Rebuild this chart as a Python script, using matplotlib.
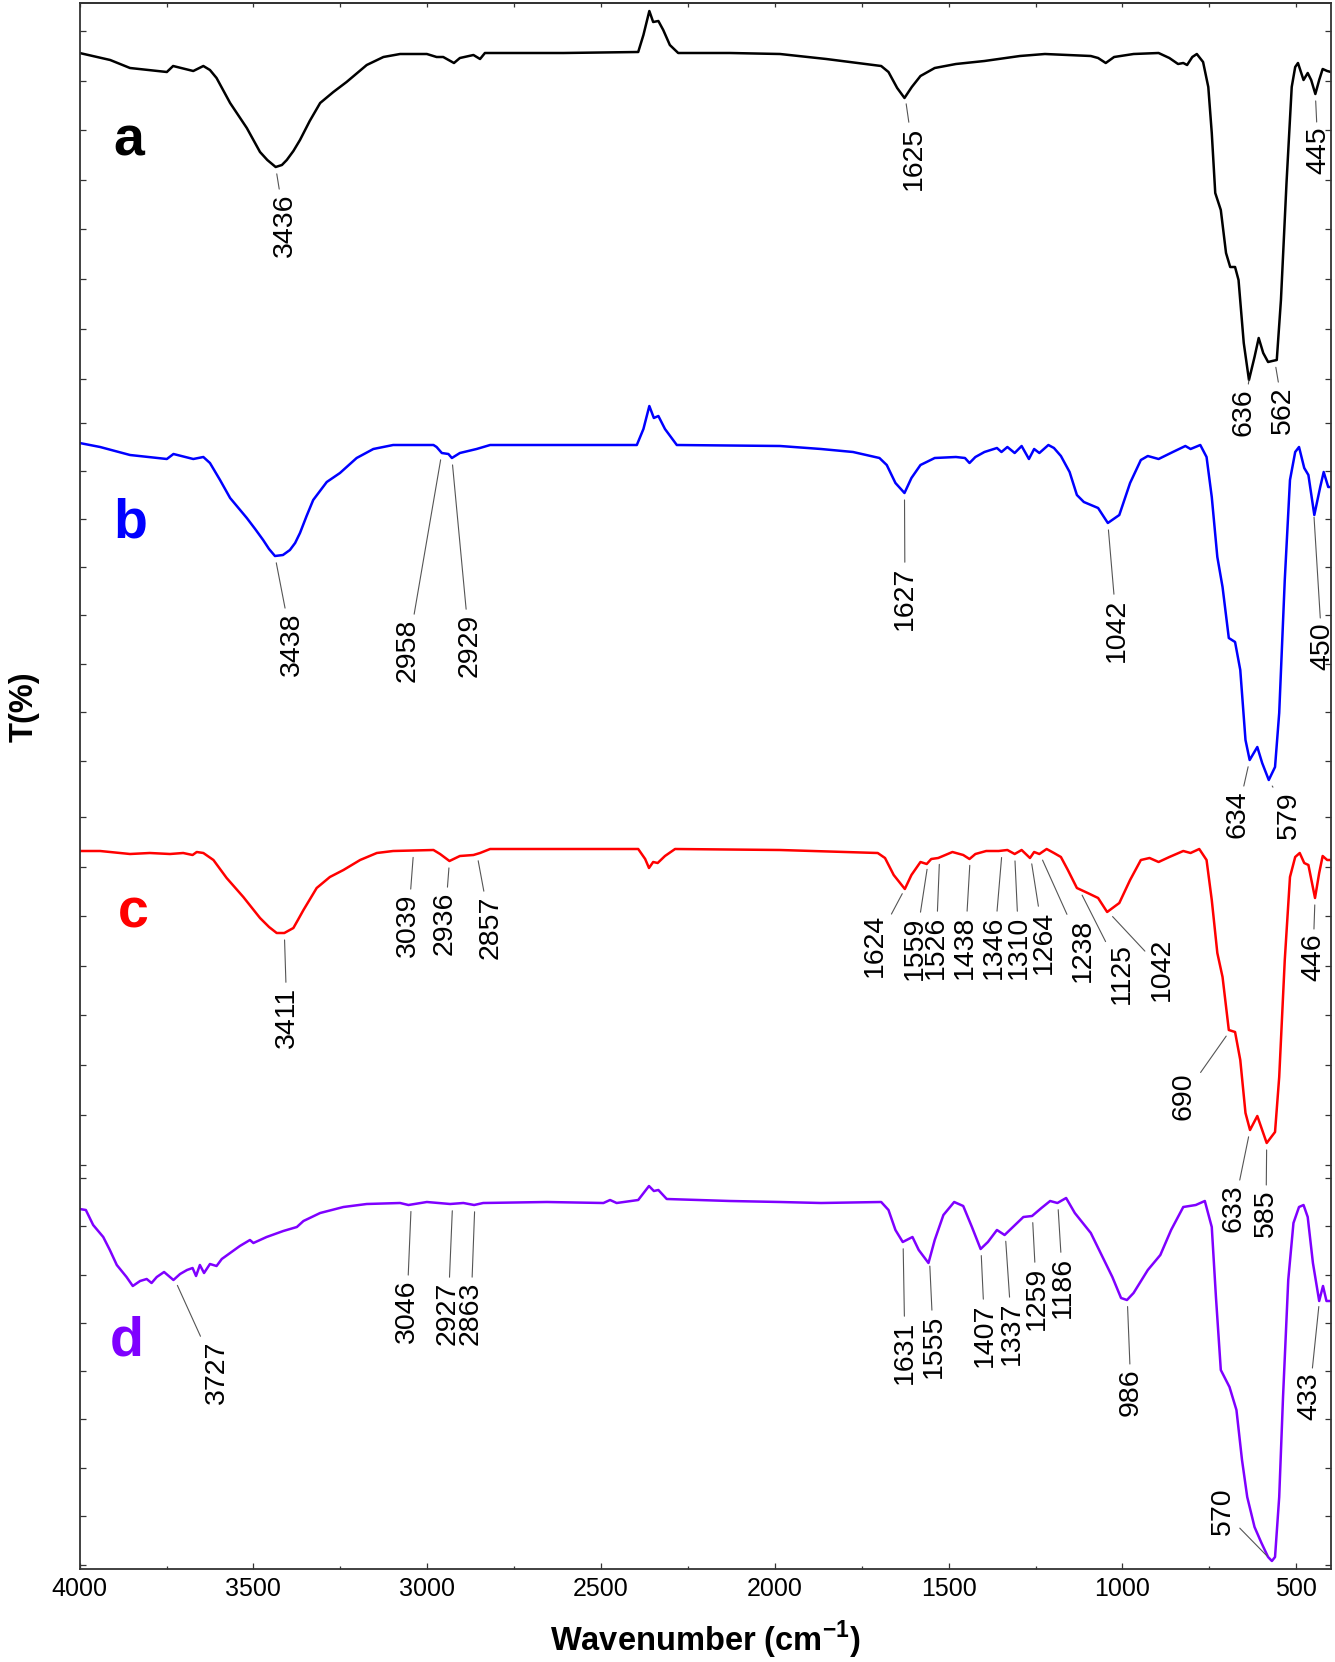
import numpy as np
import matplotlib
matplotlib.use("Agg")
import matplotlib.pyplot as plt

plt.rcParams['font.family'] = ['Liberation Sans', 'DejaVu Sans']
plt.rcParams['mathtext.fontset'] = 'custom'
plt.rcParams['mathtext.rm'] = 'Liberation Sans'
plt.rcParams['mathtext.bf'] = 'Liberation Sans:bold'

# ---------------- data (wavenumber cm-1, offset transmittance, arbitrary units) ----------------
spec_a = [(4000,151.6),(3912,150.9),(3855,150.1),(3749,149.7),(3731,150.3),(3673,149.8),(3644,150.3),
          (3625,149.9),(3606,149.1),(3567,146.6),(3519,144.1),(3481,141.7),(3460,140.9),(3436,140.2),
          (3418,140.4),(3404,140.9),(3385,141.8),(3366,142.9),(3338,144.8),(3308,146.6),(3270,147.7),
          (3232,148.7),(3174,150.4),(3126,151.2),(3078,151.5),
          (3001,151.5),(2973,151.2),(2954,151.2),(2923,150.6),(2906,151.1),(2867,151.4),(2848,151.0),
          (2834,151.6),(2608,151.6),(2393,151.7),(2378,153.4),(2361,155.8),(2350,154.7),(2335,154.8),
          (2321,153.9),(2302,152.4),(2278,151.6),(2129,151.6),(1985,151.5),(1852,151.0),(1694,150.3),
          (1673,149.7),(1648,148.1),(1627,147.1),(1606,148.2),(1581,149.3),(1540,150.1),(1479,150.5),
          (1397,150.8),(1295,151.3),(1223,151.5),(1091,151.3),(1070,151.1),(1048,150.6),(1024,151.2),
          (968,151.5),(896,151.6),(865,151.1),(840,150.5),(825,150.6),(814,150.4),(799,151.2),(786,151.5),
          (768,150.7),(753,148.2),(743,143.6),(733,137.6),(717,135.9),(702,131.6),(690,130.2),(676,130.2),
          (666,128.9),(651,122.6),(636,118.9),(620,121.2),(608,123.1),(595,121.6),(581,120.7),(569,120.8),
          (556,120.9),(544,126.9),(528,138.6),(513,148.2),(503,150.2),(495,150.6),(479,148.9),(467,149.6),
          (457,148.9),(445,147.5),(434,148.9),(424,150.0),(411,149.8),(400,149.7)]

spec_b = [(4000,112.6),(3941,112.2),(3855,111.4),(3749,111.0),(3730,111.5),(3673,111.0),(3644,111.2),
          (3625,110.6),(3596,108.9),(3567,107.1),(3519,105.1),(3495,104.0),(3472,102.9),(3455,102.0),
          (3438,101.3),(3415,101.4),(3395,101.9),(3380,102.6),(3366,103.6),(3347,105.3),(3328,106.9),
          (3289,108.7),(3251,109.6),(3203,111.1),(3155,112.0),(3098,112.4),
          (2982,112.4),(2973,112.2),(2958,111.6),(2939,111.5),(2929,111.1),(2906,111.6),(2858,112.0),
          (2819,112.4),(2397,112.4),(2378,114.0),(2361,116.3),(2348,115.1),(2335,115.3),(2316,114.0),
          (2282,112.4),(1985,112.3),(1867,112.0),(1775,111.7),(1699,111.1),(1678,110.4),(1653,108.6),
          (1627,107.6),(1607,109.1),(1581,110.4),(1540,111.1),(1479,111.2),(1453,111.1),(1440,110.6),
          (1423,111.2),(1397,111.7),(1361,112.1),(1348,111.7),(1331,112.2),(1310,111.6),(1290,112.3),
          (1269,111.0),(1254,112.0),(1239,111.6),(1213,112.4),(1197,112.1),(1177,111.3),(1152,109.7),
          (1131,107.4),(1111,106.7),(1070,106.1),(1042,104.6),(1009,105.4),(978,108.6),(947,110.9),
          (927,111.3),(896,111.0),(855,111.7),(819,112.3),(804,112.0),(776,112.4),(758,111.2),(743,107.2),
          (727,101.2),(712,98.2),(694,93.1),(676,92.7),(661,89.9),(646,82.9),(634,80.9),(612,82.2),
          (598,80.6),(579,78.9),(561,80.2),(549,85.6),(533,98.9),(518,108.9),(503,111.7),(492,112.2),
          (477,110.1),(465,109.4),(448,105.4),(431,108.2),(421,109.7),(408,108.2),(400,108.2)]

spec_c = [(4000,71.8),(3941,71.8),(3855,71.5),(3798,71.6),(3740,71.5),(3702,71.6),(3675,71.4),(3663,71.7),
          (3644,71.6),(3615,70.9),(3577,69.1),(3529,67.2),(3481,65.1),(3455,64.2),(3433,63.6),(3411,63.6),
          (3385,64.1),(3372,64.9),(3356,65.9),(3337,67.0),(3318,68.1),(3280,69.2),(3241,69.9),(3193,70.9),
          (3145,71.6),(3098,71.8),(2982,71.9),
          (2963,71.5),(2936,70.8),(2906,71.3),(2867,71.4),(2848,71.6),(2819,72.0),(2393,72.0),(2373,71.0),
          (2362,70.1),(2350,70.7),(2337,70.6),(2316,71.3),(2287,72.0),(1985,71.9),(1704,71.6),(1683,71.1),
          (1658,69.4),(1626,68.0),(1607,69.4),(1581,70.7),(1563,70.5),(1550,71.0),(1530,71.1),(1489,71.7),
          (1458,71.4),(1440,71.0),(1423,71.5),(1392,71.8),(1356,71.8),(1331,71.9),(1310,71.5),(1290,71.9),
          (1266,71.1),(1254,71.7),(1239,71.5),(1218,72.0),(1197,71.6),(1177,71.2),(1157,69.9),(1131,68.1),
          (1100,67.6),(1070,67.1),(1044,65.7),(1009,66.6),(978,68.9),(947,70.9),(922,71.1),(896,70.7),
          (865,71.2),(825,71.8),(804,71.6),(779,72.0),(758,70.9),(743,66.9),(727,61.6),(712,59.2),(694,53.9),
          (676,53.7),(661,50.9),(646,45.6),(633,43.9),(612,45.3),(598,43.9),(585,42.6),(561,43.7),(549,49.2),
          (533,60.9),(518,69.2),(503,71.2),(490,71.6),(477,70.6),(465,70.4),(446,67.1),(434,69.6),(424,71.3),
          (411,70.9),(400,70.9)]

spec_d = [(4000,36.0),(3982,35.9),(3961,34.4),(3932,33.2),(3913,31.9),(3893,30.4),(3865,29.2),(3847,28.3),
          (3826,28.8),(3807,29.0),(3793,28.6),(3778,29.2),(3757,29.7),(3730,28.9),(3711,29.5),(3691,29.9),
          (3675,30.1),(3665,29.3),(3654,30.4),(3642,29.6),(3625,30.5),(3606,30.3),(3591,31.0),(3567,31.6),
          (3539,32.3),(3510,32.9),(3500,32.6),(3462,33.2),(3414,33.8),(3375,34.2),(3356,34.8),(3308,35.6),
          (3241,36.2),(3174,36.5),(3078,36.6),(3054,36.4),(3001,36.7),(2934,36.5),(2896,36.6),(2865,36.4),
          (2839,36.6),(2656,36.7),(2493,36.6),(2474,36.9),(2455,36.6),(2393,36.9),(2362,38.3),(2348,37.8),
          (2335,37.9),(2311,37.0),(2129,36.8),(1985,36.7),(1867,36.6),(1694,36.7),(1673,35.9),(1653,33.9),
          (1632,32.7),(1604,33.2),(1586,31.9),(1558,30.6),(1540,32.9),(1515,35.4),(1484,36.7),(1458,36.3),
          (1433,34.2),(1408,32.0),(1387,32.7),(1361,33.9),(1339,33.4),(1315,34.2),(1285,35.2),(1260,35.3),
          (1233,36.1),(1208,36.8),(1187,36.6),(1162,37.1),(1137,35.6),(1091,33.6),(1060,31.4),(1029,29.2),
          (1004,27.1),(987,26.9),(968,27.6),(927,29.9),(891,31.4),(860,33.9),(825,36.2),(789,36.4),(763,36.8),
          (743,34.2),(731,27.2),(717,19.9),(692,18.2),(672,15.9),(656,10.9),(641,7.2),(620,4.2),(600,2.6),
          (581,1.2),(570,0.8),(561,1.2),(549,7.2),(538,17.2),(523,28.9),(508,34.6),(492,36.2),(479,36.4),
          (467,35.2),(452,30.6),(434,26.8),(423,28.3),(413,26.8),(400,26.8)]

x_major = [4000, 3500, 3000, 2500, 2000, 1500, 1000, 500]
x_labels = ['4000', '3500', '3000', '2500', '2000', '1500', '1000', '500']
x_minor = [3750, 3250, 2750, 2250, 1750, 1250, 750]

# peak labels: text, wavenumber
peaks_a = [('3436', 3436), ('1625', 1625), ('636', 636), ('562', 562), ('445', 445)]
peaks_b = [('3438', 3438), ('2958', 2958), ('2929', 2929), ('1627', 1627), ('1042', 1042),
           ('634', 634), ('579', 579), ('450', 450)]
peaks_c = [('3411', 3411), ('3039', 3039), ('2936', 2936), ('2857', 2857), ('1624', 1624),
           ('1559', 1559), ('1526', 1526), ('1438', 1438), ('1346', 1346), ('1310', 1310),
           ('1264', 1264), ('1238', 1238), ('1125', 1125), ('1042', 1042), ('690', 690),
           ('633', 633), ('585', 585), ('446', 446)]
peaks_d = [('3727', 3727), ('3046', 3046), ('2927', 2927), ('2863', 2863), ('1631', 1631),
           ('1555', 1555), ('1407', 1407), ('1337', 1337), ('1259', 1259), ('1186', 1186),
           ('986', 986), ('570', 570), ('433', 433)]

# ---------------- layout (reference pixel positions for text) ----------------
W, H = 1335, 1662
text_pos_a = [(285, 225), (914, 158), (1244, 412), (1283, 410), (1318, 150)]
text_pos_b = [(292, 644), (408, 650), (469.5, 645), (905, 598), (1117, 630), (1237.5, 814),
              (1289, 815), (1322, 646)]
text_pos_c = [(287, 1017), (408, 925), (444.7, 923), (490.5, 927), (875, 945), (915, 948),
              (936, 947), (965, 947), (994, 947), (1019, 947), (1044, 942), (1083, 950),
              (1122, 974), (1161.6, 969), (1184, 1096), (1234, 1208), (1266, 1213), (1313, 957)]
text_pos_d = [(216.7, 1372), (406.7, 1311), (448, 1313), (470.8, 1313), (905, 1352),
              (933.6, 1346), (985, 1335), (1012, 1333), (1036.7, 1298), (1063, 1287),
              (1131, 1392), (1223, 1511), (1309.5, 1396)]

ytick_pos = [153.83, 148.83, 143.9, 138.9, 134.0, 129.0, 124.0, 119.0,
             114.6, 109.83, 105.03, 100.17, 95.37, 90.5, 85.7, 80.83,
             75.23, 70.23, 65.3, 60.3, 55.4, 50.4, 45.4, 40.4,
             39.1, 34.3, 29.43, 24.6, 19.8, 15.0, 10.13, 5.3, 0.4]


def P(x, row):
    return (x / W, 1 - row / H)


fig = plt.figure(figsize=(W / 100, H / 100), dpi=100)
ax = fig.add_axes([79.6 / W, 1 - 1569 / H, (1331 - 79.6) / W, (1569 - 3) / H])

colors = ['#000000', '#0000ff', '#ff0000', '#7f00ff']
specs = [spec_a, spec_b, spec_c, spec_d]
peaks = [peaks_a, peaks_b, peaks_c, peaks_d]
tpos = [text_pos_a, text_pos_b, text_pos_c, text_pos_d]
letters = ['a', 'b', 'c', 'd']
letter_pos = [(129, 155), (130, 538), (133, 927), (127, 1355)]

for spec, col, pk, tp, let, lp in zip(specs, colors, peaks, tpos, letters, letter_pos):
    arr = np.array(spec, dtype=float)
    wn, t = arr[:, 0], arr[:, 1]
    ax.plot(wn, t, color=col, lw=1.8, solid_joinstyle='round')
    for (lab, w), (tx, ty) in zip(pk, tp):
        v = np.interp(w, wn[::-1], t[::-1])
        ax.annotate(lab, xy=(w, v), xycoords='data', xytext=P(tx, ty),
                    textcoords='figure fraction', rotation=90, ha='center', va='center',
                    fontsize=20.5, color='black',
                    arrowprops=dict(arrowstyle='-', color='#555555', lw=0.8,
                                    shrinkA=1, shrinkB=5))
    fig.text(*P(*lp), let, fontsize=40, fontweight='bold', color=col,
             ha='center', va='baseline')

ax.set_xlim(4000, 400)
ax.set_ylim(0, 156.6)
ax.set_xticks(x_major)
ax.set_xticklabels(x_labels)
ax.set_xticks(x_minor, minor=True)
ax.set_yticks(ytick_pos)
ax.set_yticklabels([])
ax.tick_params(axis='x', which='major', direction='in', length=4.3, width=0.9,
               pad=5.8, labelsize=18, top=False, color='#333333')
ax.tick_params(axis='x', which='minor', direction='in', length=2.4, width=0.9,
               top=False, color='#333333')
ax.tick_params(axis='y', which='major', direction='in', length=4.3, width=0.9,
               left=True, right=True, labelleft=False, color='#333333')

sec = ax.secondary_xaxis('top')
sec_ticks = x_major + x_minor
sec.set_xticks(sec_ticks, labels=[''] * len(sec_ticks))
sec.tick_params(axis='x', direction='in', length=3, width=0.9, color='#333333')
sec.spines['top'].set_linewidth(1.3)
sec.spines['top'].set_color('#333333')

for s in ax.spines.values():
    s.set_linewidth(1.3)
    s.set_color('#333333')

fig.text(705 / W, 1 - 1651.5 / H, r'Wavenumber (cm$^{\mathbf{-1}}$)', fontsize=23.5,
         fontweight='bold', ha='center', va='baseline')
fig.text(24 / W, 1 - 707 / H, 'T(%)', fontsize=23.5, fontweight='bold',
         rotation=90, ha='center', va='center')

fig.savefig('out.png', dpi=100)
